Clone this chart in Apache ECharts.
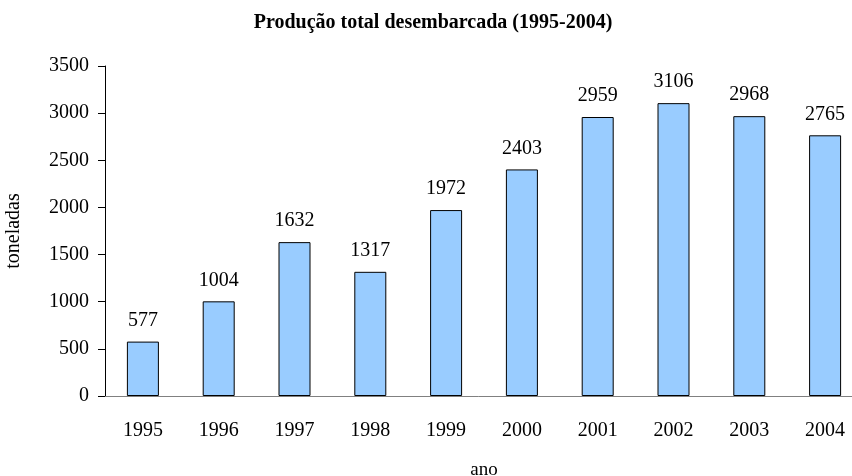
<!DOCTYPE html>
<html>
<head>
<meta charset="utf-8">
<script src="https://cdn.jsdelivr.net/npm/echarts@6/dist/echarts.min.js"></script>
<style>
  html, body { margin: 0; padding: 0; background: #fff; }
  #chart { width: 852px; height: 476px; }
</style>
</head>
<body>
<div id="chart"></div>
<script>
const years = ['1995', '1996', '1997', '1998', '1999', '2000', '2001', '2002', '2003', '2004']
const production = [577, 1004, 1632, 1317, 1972, 2403, 2959, 3106, 2968, 2765]

const font = 'Liberation Serif'
const chart = echarts.init(document.getElementById('chart'))

chart.setOption({
  animation: false,
  title: {
    text: 'Produção total desembarcada (1995-2004)',
    left: 428,
    top: 8,
    textAlign: 'center',
    textStyle: { fontFamily: font, fontSize: 20, fontWeight: 'bold', color: '#000' }
  },
  grid: { left: 105, top: 66, width: 758, height: 330, outerBoundsMode: 'none', containLabel: false },
  xAxis: {
    type: 'category',
    data: years,
    name: 'ano',
    nameLocation: 'middle',
    nameGap: 65,
    nameTextStyle: { fontFamily: font, fontSize: 19, color: '#000' },
    axisLine: { lineStyle: { color: '#808080', width: 1 } },
    axisTick: { length: 7, lineStyle: { color: '#000' } },
    axisLabel: { margin: 25, fontFamily: font, fontSize: 20, color: '#000' }
  },
  yAxis: {
    type: 'value',
    min: 0,
    max: 3500,
    interval: 500,
    name: 'toneladas',
    nameLocation: 'middle',
    nameGap: 81,
    nameTextStyle: { fontFamily: font, fontSize: 20, color: '#000' },
    splitLine: { show: false },
    axisLine: { show: true, lineStyle: { color: '#000', width: 1 } },
    axisTick: { show: true, length: 7, lineStyle: { color: '#000' } },
    axisLabel: {
      margin: 16,
      fontFamily: font,
      fontSize: 20,
      color: '#000',
      formatter: (v) => String(v)
    }
  },
  series: [
    {
      type: 'bar',
      data: production,
      barWidth: 32,
      itemStyle: { color: '#99CCFF', borderColor: '#000', borderWidth: 1 },
      label: {
        show: true,
        position: 'top',
        distance: 11,
        fontFamily: font,
        fontSize: 20,
        color: '#000'
      }
    }
  ]
})
</script>
</body>
</html>
